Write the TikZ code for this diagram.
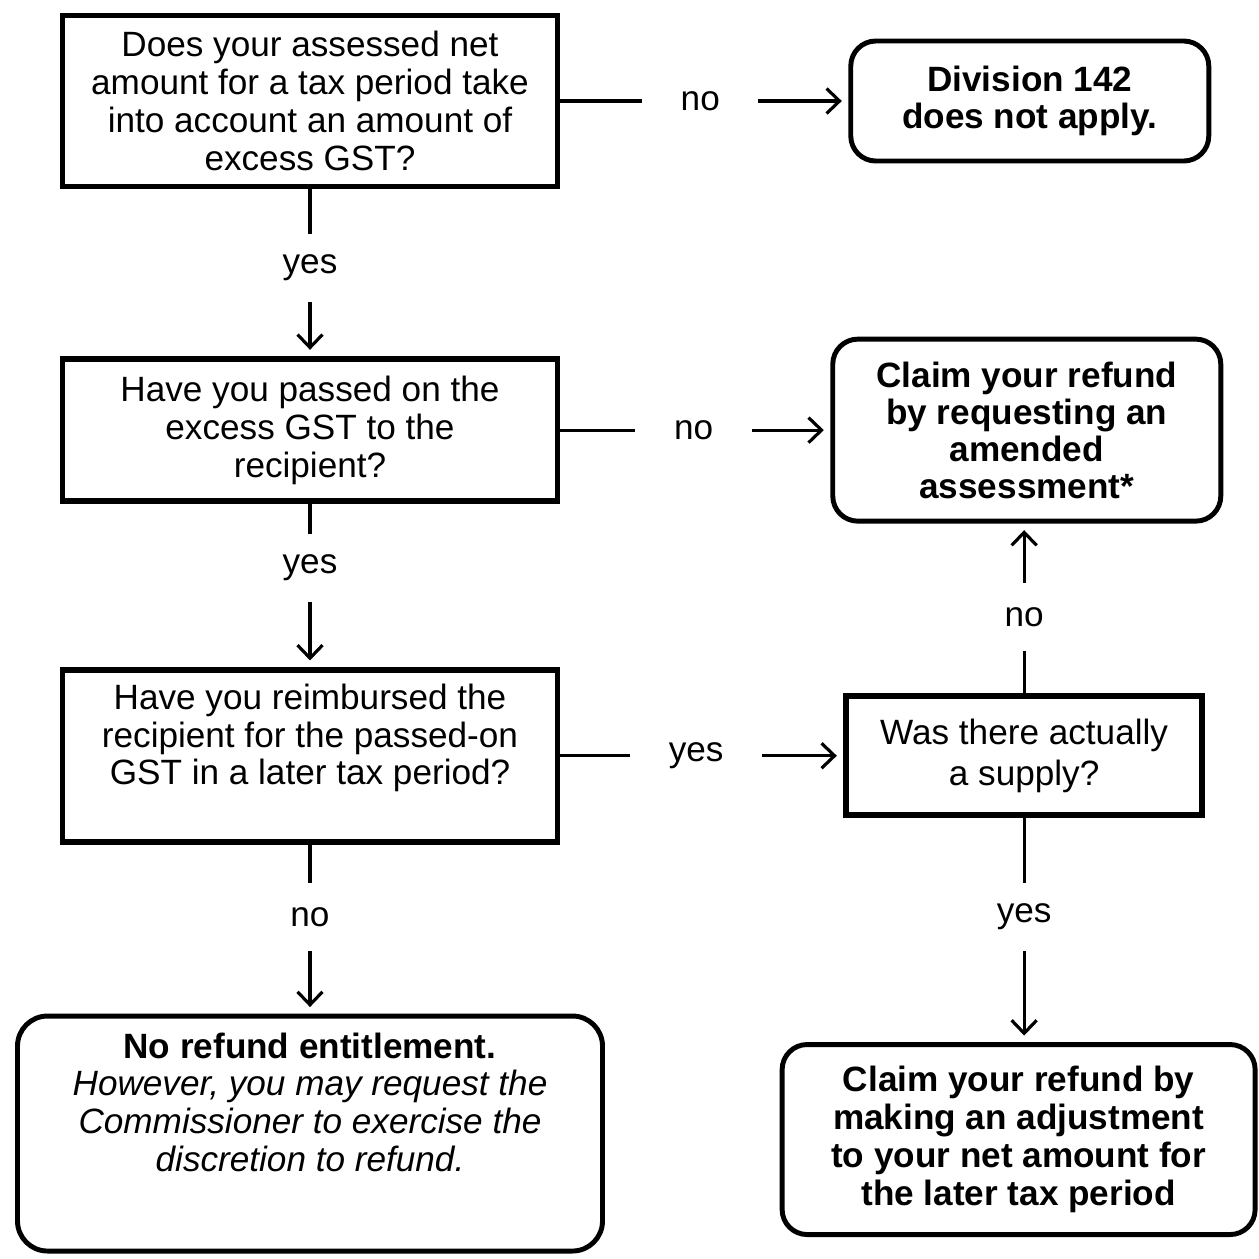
\documentclass[tikz,border=0pt]{standalone}
\usepackage{fontspec}
\setmainfont{Liberation Sans}
\usetikzlibrary{
  arrows.meta,
  positioning
}
\tikzset{
  flowbox/.style={
    draw=black,
    align=center,
    inner sep=4pt,
    font=\fontsize{20}{21.5}\selectfont
  },
  qbox/.style={flowbox,line width=3.2pt,minimum width=9.9cm},
  endbox/.style={flowbox,line width=2.8pt,rounded corners=5mm},
  flowarrow/.style={-{Straight Barb[length=2.6mm,width=5mm]},line width=1.8pt,shorten >=1.3mm},
  hlabel/.style={fill=white,inner sep=0pt,font=\fontsize{20}{21.5}\selectfont},
  vlabel/.style={fill=white,inner sep=0pt,minimum height=1.36cm,font=\fontsize{20}{21.5}\selectfont},
}

\begin{document}
\begin{tikzpicture}
  \useasboundingbox (0,0) rectangle (25.18,-25.16);

  % Left column
  \node[qbox,minimum height=3.42cm] (q1) at (6.2,-2.02) {Does your assessed net\\amount for a tax period take\\into account an amount of\\excess GST?};
  \node[qbox,minimum height=2.84cm,below=3.34cm of q1] (q2) {Have you passed on the\\excess GST to the\\recipient?};
  \node[qbox,minimum height=3.44cm,below=3.26cm of q2] (q3) {Have you reimbursed the\\recipient for the passed-on\\GST in a later tax period?\\[1mm]};
  \node[endbox,minimum width=11.7cm,minimum height=4.7cm,rounded corners=6mm,below=3.38cm of q3] (norefund) {
    \textbf{No refund entitlement.}\\
    \textit{However, you may request the}\\
    \textit{Commissioner to exercise the}\\
    \textit{discretion to refund.}\\[5mm]\mbox{}
  };

  % Right column
  \node[endbox,font=\fontsize{20}{21}\selectfont\bfseries,minimum width=7.16cm,minimum height=2.4cm,right=5.76cm of q1] (d142) {Division 142\\does not apply.};
  \node[endbox,font=\fontsize{20}{21}\selectfont\bfseries,minimum width=7.76cm,minimum height=3.64cm,right=5.4cm of q2] (amend) {Claim your refund\\by requesting an\\amended\\assessment*};
  \node[qbox,font=\fontsize{20}{23.5}\selectfont,minimum width=7.12cm,minimum height=2.38cm,right=5.66cm of q3] (supply) {Was there actually\\a supply?};
  \node[endbox,font=\fontsize{20}{21.5}\selectfont\bfseries,minimum width=9.46cm,minimum height=3.8cm,below=4.48cm of supply,xshift=-1.1mm] (adjust) {Claim your refund by\\making an adjustment\\to your net amount for\\the later tax period};

  % Connectors
  \draw[flowarrow] (q1.east) -- node[hlabel,pos=0.486,minimum width=2.32cm]{no} (q1.east -| d142.west);
  \draw[flowarrow] (q1.south) -- node[vlabel,pos=0.47]{yes} (q2.north);
  \draw[flowarrow] (q2.east) -- node[hlabel,pos=0.494,minimum width=2.34cm]{no} (q2.east -| amend.west);
  \draw[flowarrow] (q2.south) -- node[vlabel,pos=0.39]{yes} (q3.north);
  \draw[flowarrow] (q3.east) -- node[hlabel,pos=0.48,minimum width=2.64cm]{yes} (q3.east -| supply.west);
  \draw[flowarrow] (q3.south) -- node[vlabel,pos=0.43]{no} (norefund.north);
  \draw[flowarrow] (supply.north) -- node[vlabel,pos=0.45]{no} (supply.north |- amend.south);
  \draw[flowarrow] (supply.south) -- node[vlabel,pos=0.44]{yes} (supply.south |- adjust.north);
\end{tikzpicture}
\end{document}
